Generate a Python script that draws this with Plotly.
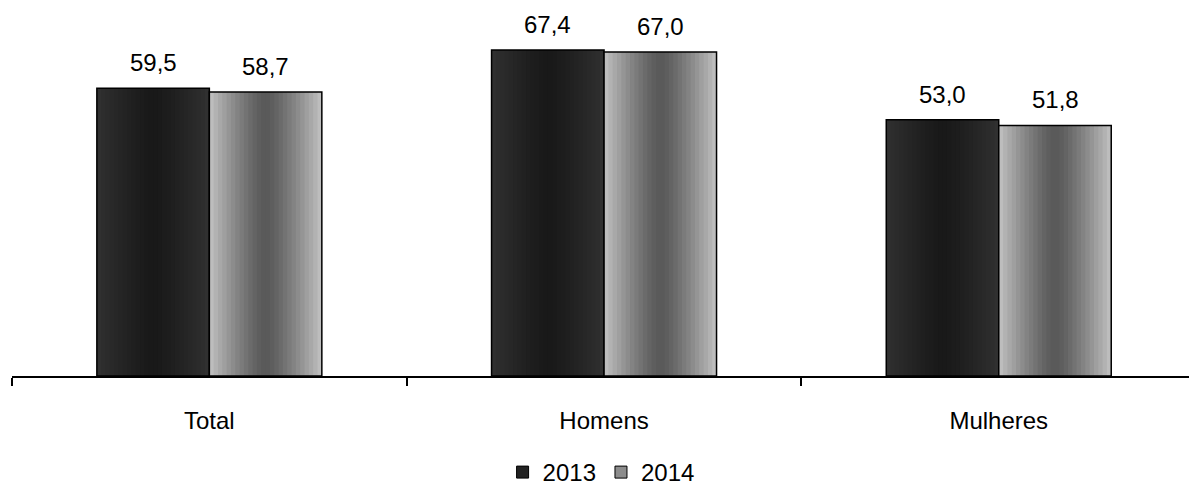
import plotly.graph_objects as go

# Data
categories = ["Total", "Homens", "Mulheres"]
years = ["2013", "2014"]
values_2013 = [59.5, 67.4, 53.0]
values_2014 = [58.7, 67.0, 51.8]

FONT = "Liberation Sans, Arial, sans-serif"
BAR_W = 0.285          # width of one bar in category units
N_STRIPES = 26         # number of shading bands per bar

# gradient (edge colour, centre colour) for each series
shading = {
    "2013": ((0x31, 0x31, 0x31), (0x19, 0x19, 0x19)),
    "2014": ((0xc2, 0xc2, 0xc2), (0x58, 0x58, 0x58)),
}
legend_fill = {"2013": "#222222", "2014": "#8c8c8c"}

positions = list(range(len(categories)))
series = [("2013", values_2013, -BAR_W), ("2014", values_2014, 0.0)]


def band_colour(edge, centre, k, n):
    t = (k + 0.5) / n
    d = abs(2 * t - 1) ** 1.3
    r, g, b = (round(c + (e - c) * d) for e, c in zip(edge, centre))
    return f"rgb({r},{g},{b})"


fig = go.Figure()

for name, vals, base in series:
    edge, centre = shading[name]
    step = BAR_W / N_STRIPES
    # shaded bands across each bar
    for k in range(N_STRIPES):
        fig.add_trace(go.Bar(
            x=positions, y=vals,
            offset=base + k * step,
            width=step * (1.0 if k == N_STRIPES - 1 else 1.3),
            marker=dict(color=band_colour(edge, centre, k, N_STRIPES), line=dict(width=0)),
            showlegend=False, hoverinfo="skip",
        ))
    # outline of the whole bar
    fig.add_trace(go.Bar(
        x=positions, y=vals, offset=base, width=BAR_W, name=name,
        marker=dict(color="rgba(0,0,0,0)", line=dict(color="black", width=1.5)),
        showlegend=False,
        hovertemplate="%{y:.1f}<extra>" + name + "</extra>",
    ))
    # value labels above the bars
    for p, v in zip(positions, vals):
        fig.add_annotation(
            x=p + base + BAR_W / 2, y=v, xref="x", yref="y",
            text=f"{v:.1f}".replace(".", ","), showarrow=False,
            yanchor="bottom", yshift=10,
            font=dict(family=FONT, size=24, color="black"),
        )

# legend entries
for name in years:
    fig.add_trace(go.Bar(
        x=[None], y=[None], name=name,
        marker=dict(color=legend_fill[name], line=dict(color="black", width=1)),
    ))

fig.update_layout(
    width=1189, height=495,
    margin=dict(l=12, r=0, t=20, b=119),
    paper_bgcolor="white", plot_bgcolor="white",
    barmode="overlay",
    font=dict(family=FONT, size=24, color="black"),
    legend=dict(
        orientation="h", x=0.5005, xanchor="center", y=-0.272, yanchor="middle",
        font=dict(family=FONT, size=24, color="black"),
        itemwidth=30, tracegroupgap=0,
    ),
    xaxis=dict(
        range=[-0.5, 2.482],
        tickmode="array", tickvals=positions, ticktext=categories,
        ticks="outside", ticklen=22, tickcolor="rgba(0,0,0,0)",
        showline=True, linecolor="black", linewidth=1.5,
        showgrid=False, zeroline=False,
        minor=dict(tickmode="array", tickvals=[-0.5, 0.5, 1.5, 2.5],
                   ticks="outside", ticklen=8, tickcolor="black", tickwidth=1.5),
        tickfont=dict(family=FONT, size=24, color="black"),
    ),
    yaxis=dict(range=[0, 73.6], visible=False, showgrid=False, zeroline=False),
)

fig.write_html("out.html")
